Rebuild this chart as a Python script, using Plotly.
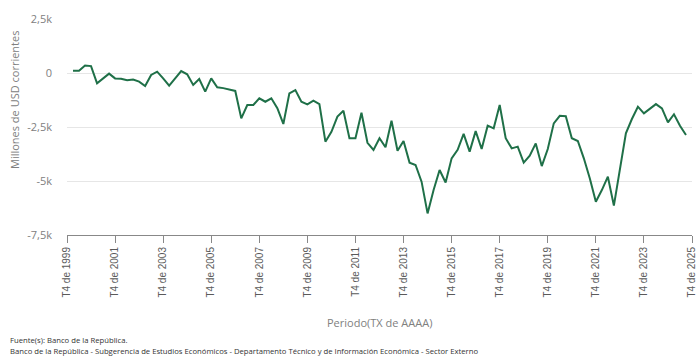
import plotly.graph_objects as go

# Quarter index: 0 = T4 de 1999, 1 = T1 de 2000, ...
quarter_index = list(range(1, 104))
periods = [f"T{(q - 1) % 4 + 1} de {2000 + (q - 1) // 4}" for q in quarter_index]

values = [
    100, 100, 350, 320, -480, -250, -30, -250, -270, -340,
    -300, -400, -600, -90, 60, -250, -590, -250, 90, -60,
    -550, -280, -860, -250, -660, -700, -760, -830, -2100, -1480,
    -1480, -1170, -1330, -1170, -1630, -2360, -940, -790, -1330, -1450,
    -1280, -1440, -3180, -2720, -2020, -1750, -3020, -3020, -1840, -3230,
    -3560, -3020, -3440, -2210, -3600, -3150, -4150, -4260, -5030, -6500,
    -5420, -4490, -5070, -3950, -3560, -2820, -3640, -2690, -3520, -2440,
    -2560, -1480, -3020, -3490, -3410, -4150, -3830, -3260, -4310, -3520,
    -2330, -1980, -2000, -3020, -3150, -3950, -4880, -5960, -5420, -4800,
    -6140, -4490, -2790, -2130, -1560, -1870, -1640, -1440, -1640, -2290,
    -1910, -2440, -2870,
]

x_tick_vals = list(range(0, 105, 8))
x_tick_text = ["T4 de 1999", "T4 de 2001", "T4 de 2003", "T4 de 2005", "T4 de 2007",
               "T4 de 2009", "T4 de 2011", "T4 de 2013", "T4 de 2015", "T4 de 2017",
               "T4 de 2019", "T4 de 2021", "T4 de 2023", "T4 de 2025"]
y_tick_vals = [2500, 0, -2500, -5000, -7500]
y_tick_text = ["2,5k", "0", "-2,5k", "-5k", "-7,5k"]

fig = go.Figure()
fig.add_trace(go.Scatter(
    x=quarter_index, y=values, text=periods, mode="lines",
    line=dict(color="#1f7048", width=2),
    hovertemplate="%{text}: %{y}<extra></extra>",
))

fig.update_layout(
    width=700, height=357,
    margin=dict(l=67, r=8, t=19, b=122, autoexpand=False),
    paper_bgcolor="white", plot_bgcolor="white",
    showlegend=False,
    font=dict(family="Open Sans", color="#666666"),
    xaxis=dict(
        range=[0, 104], tickmode="array", tickvals=x_tick_vals, ticktext=x_tick_text,
        tickangle=-90, ticks="outside", ticklen=7, tickcolor="#888888",
        showline=True, linecolor="#888888", linewidth=1, showgrid=False, zeroline=False,
        automargin=False,
        tickfont=dict(family="Liberation Sans", size=10, color="#5a5a5a"),
    ),
    yaxis=dict(
        range=[-7500, 2500], tickmode="array", tickvals=y_tick_vals, ticktext=y_tick_text,
        showgrid=True, gridcolor="#e6e6e6", gridwidth=1, zeroline=False, showline=False,
        ticklabelstandoff=14, automargin=False,
        tickfont=dict(family="Open Sans", size=11, color="#808080"),
    ),
    annotations=[
        dict(text="Periodo(TX de AAAA)", xref="paper", yref="paper",
             x=0.5, y=(235 - 322) / 216, xanchor="center", yanchor="middle",
             showarrow=False, font=dict(family="Open Sans", size=11, color="#808080")),
        dict(text="Millones de USD corrientes", textangle=-90, xref="paper", yref="paper",
             x=(14 - 67) / 625, y=(235 - 100) / 216, xanchor="center", yanchor="middle",
             showarrow=False, font=dict(family="Open Sans", size=11, color="#808080")),
        dict(text="Fuente(s): Banco de la República.", xref="paper", yref="paper",
             x=(8 - 67) / 625, y=(235 - 340) / 216, xanchor="left", yanchor="middle",
             showarrow=False, font=dict(family="Open Sans", size=7.7, color="#333333")),
        dict(text="Banco de la República - Subgerencia de Estudios Económicos - Departamento Técnico y de Información Económica - Sector Externo",
             xref="paper", yref="paper",
             x=(8 - 67) / 625, y=(235 - 351) / 216, xanchor="left", yanchor="middle",
             showarrow=False, font=dict(family="Open Sans", size=7.7, color="#333333")),
    ],
)

fig.write_html("out.html", config={"displayModeBar": False},
               post_script="document.body.style.margin='0';")
